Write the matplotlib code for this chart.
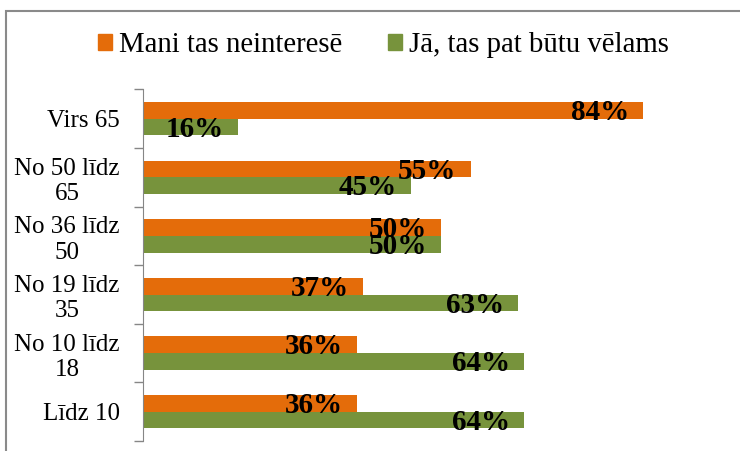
import matplotlib
matplotlib.use("Agg")
import matplotlib.pyplot as plt
from matplotlib.patches import Rectangle, Patch

W, H = 740, 451

categories = ["Virs 65", "No 50 līdz\n65", "No 36 līdz\n50", "No 19 līdz\n35",
              "No 10 līdz\n18", "Līdz 10"]
not_interested = [0.84, 0.55, 0.50, 0.37, 0.36, 0.36]
would_like = [0.16, 0.45, 0.50, 0.63, 0.64, 0.64]
series_names = ["Mani tas neinteresē", "Jā, tas pat būtu vēlams"]

ORANGE = "#E46C0A"
GREEN = "#77933C"
GRAY = "#868686"

plt.rcParams["font.family"] = ["Liberation Serif", "DejaVu Serif"]

fig = plt.figure(figsize=(W / 100, H / 100), dpi=100)
ax = fig.add_axes([142.7 / W, 10 / H, 596 / W, 351.6 / H])

n = len(categories)
ys = [n - 1 - i for i in range(n)]
bh = 0.285
ax.barh([y + bh / 2 for y in ys], not_interested, height=bh, color=ORANGE)
ax.barh([y - bh / 2 for y in ys], would_like, height=bh, color=GREEN)

for y, a, b in zip(ys, not_interested, would_like):
    ax.annotate(f"{a:.0%}", (a, y), xytext=(-10, -1), textcoords="offset points",
                ha="right", va="baseline", fontsize=21, fontweight="bold")
    ax.annotate(f"{b:.0%}", (b, y - bh), xytext=(-10, -1), textcoords="offset points",
                ha="right", va="baseline", fontsize=21, fontweight="bold")

ax.set_xlim(0, 1)
ax.set_ylim(-0.5, n - 0.5)
ax.set_xticks([])
ax.set_yticks([i - 0.5 for i in range(n + 1)])
ax.set_yticklabels([])
ax.tick_params(axis="y", which="major", length=6.5, color=GRAY, width=1)
ax.set_yticks(ys, minor=True)
ax.set_yticklabels(categories, minor=True, fontsize=18, multialignment="center")
ax.tick_params(axis="y", which="minor", length=0, pad=16.5)
for s in ["top", "right", "bottom"]:
    ax.spines[s].set_visible(False)
ax.spines["left"].set_color(GRAY)

handles = [Patch(color=ORANGE), Patch(color=GREEN)]
fig.legend(handles, series_names, loc="center", bbox_to_anchor=(383.5 / W, 1 - 45 / H),
           ncol=2, frameon=False, fontsize=20.7, handlelength=0.49, handleheight=0.49,
           handletextpad=0.26, columnspacing=1.57, borderpad=0)

fig.patches.append(Rectangle((6 / W, -0.1), 1.2, 1 - 10.5 / H + 0.1, transform=fig.transFigure,
                             fill=False, edgecolor="#8a8a8a", lw=1.5))

fig.savefig("out.png", dpi=100)
